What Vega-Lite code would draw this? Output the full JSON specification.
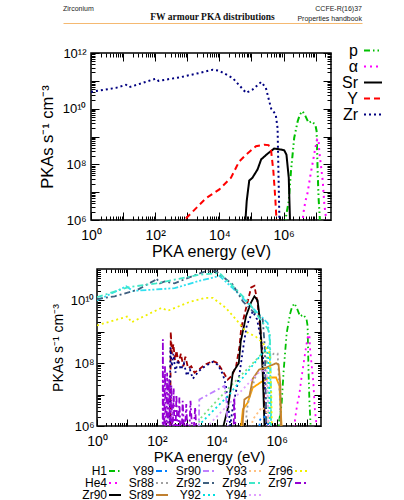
{
"$schema":"https://vega.github.io/schema/vega-lite/v6.json",
"padding":0,
"config":{"view":{"stroke":null},"font":"Liberation Sans","axis":{"labelColor":"#000","titleColor":"#000","tickColor":"#000","titleFontWeight":"normal","labelFont":"Liberation Sans","titleFont":"Liberation Sans"},"legend":{"labelColor":"#000","labelFont":"Liberation Sans"}},
"datasets":{
"top":[
{"s":"p","e":1.1e6,"v":1e5},{"s":"p","e":1.17e6,"v":1.2e6},{"s":"p","e":1.45e6,"v":4.8e6},{"s":"p","e":1.7e6,"v":5.75e7},{"s":"p","e":2.14e6,"v":8.9e8},{"s":"p","e":2.75e6,"v":3.55e9},{"s":"p","e":3.24e6,"v":6.2e9},{"s":"p","e":3.9e6,"v":8.1e9},{"s":"p","e":4.8e6,"v":5.4e9},{"s":"p","e":6.0e6,"v":3.1e9},{"s":"p","e":7.6e6,"v":3.55e9},{"s":"p","e":9.8e6,"v":2.6e9},{"s":"p","e":1.07e7,"v":1.55e9},{"s":"p","e":1.15e7,"v":5.75e7},{"s":"p","e":1.23e7,"v":6.3e6},{"s":"p","e":1.35e7,"v":1.05e6},{"s":"p","e":1.45e7,"v":1e5},
{"s":"α","e":3.6e6,"v":1e5},{"s":"α","e":3.8e6,"v":3.2e5},{"s":"α","e":4.07e6,"v":1.6e6},{"s":"α","e":4.8e6,"v":4.8e6},{"s":"α","e":5.6e6,"v":9.5e6},{"s":"α","e":6.8e6,"v":3.8e7},{"s":"α","e":7.9e6,"v":1e8},{"s":"α","e":9.8e6,"v":4e8},{"s":"α","e":1.12e7,"v":7.9e8},{"s":"α","e":1.23e7,"v":7.9e8},{"s":"α","e":1.29e7,"v":3e8},{"s":"α","e":1.48e7,"v":7.9e7},{"s":"α","e":1.66e7,"v":2.5e7},{"s":"α","e":1.86e7,"v":3.6e6},{"s":"α","e":2.1e7,"v":1.2e6},{"s":"α","e":2.24e7,"v":1e5},
{"s":"Sr","e":6e4,"v":1e5},{"s":"Sr","e":6.5e4,"v":1.05e6},{"s":"Sr","e":7.1e4,"v":4.8e6},{"s":"Sr","e":8.5e4,"v":2.6e7},{"s":"Sr","e":1.07e5,"v":3.3e7},{"s":"Sr","e":1.55e5,"v":6.6e7},{"s":"Sr","e":2e5,"v":1.5e8},{"s":"Sr","e":3.16e5,"v":2.4e8},{"s":"Sr","e":5.1e5,"v":3.7e8},{"s":"Sr","e":8.3e5,"v":3.4e8},{"s":"Sr","e":1.05e6,"v":3.2e8},{"s":"Sr","e":1.23e6,"v":2.2e8},{"s":"Sr","e":1.45e6,"v":3.3e7},{"s":"Sr","e":1.58e6,"v":1.05e6},{"s":"Sr","e":1.66e6,"v":1e5},
{"s":"Y","e":760,"v":1e5},{"s":"Y","e":810,"v":1e6},{"s":"Y","e":3800,"v":6e6},{"s":"Y","e":1e4,"v":1.26e7},{"s":"Y","e":2.3e4,"v":3.3e7},{"s":"Y","e":3.5e4,"v":8.7e7},{"s":"Y","e":4.2e4,"v":1.29e8},{"s":"Y","e":6.8e4,"v":2.24e8},{"s":"Y","e":1.38e5,"v":4.5e8},{"s":"Y","e":2.5e5,"v":5.1e8},{"s":"Y","e":3.4e5,"v":4.9e8},{"s":"Y","e":4.1e5,"v":3e8},{"s":"Y","e":4.8e5,"v":5.75e7},{"s":"Y","e":5.5e5,"v":6.3e6},{"s":"Y","e":6e5,"v":1.05e6},{"s":"Y","e":6.3e5,"v":1e5},
{"s":"Zr","e":1,"v":4e10},{"s":"Zr","e":6,"v":5.6e10},{"s":"Zr","e":12.3,"v":7.2e10},{"s":"Zr","e":15.5,"v":5.9e10},{"s":"Zr","e":105,"v":1.2e11},{"s":"Zr","e":126,"v":1e11},{"s":"Zr","e":560,"v":1.32e11},{"s":"Zr","e":2300,"v":1.9e11},{"s":"Zr","e":6200,"v":2.5e11},{"s":"Zr","e":1e4,"v":2.3e11},{"s":"Zr","e":2.6e4,"v":1.26e11},{"s":"Zr","e":6.8e4,"v":3.7e10},{"s":"Zr","e":1.07e5,"v":4.8e10},{"s":"Zr","e":2e5,"v":9.1e10},{"s":"Zr","e":2.8e5,"v":5.6e10},{"s":"Zr","e":4.1e5,"v":1e10},{"s":"Zr","e":5.5e5,"v":6.5e9},{"s":"Zr","e":5.75e5,"v":5.6e9},{"s":"Zr","e":6.5e5,"v":2e9},{"s":"Zr","e":6.9e5,"v":5.75e7},{"s":"Zr","e":7.4e5,"v":1.05e6},{"s":"Zr","e":7.8e5,"v":1e5}
],
"bot":[
{"s":"H1","e":1.1e6,"v":1e5},{"s":"H1","e":1.17e6,"v":1.2e6},{"s":"H1","e":1.45e6,"v":4.8e6},{"s":"H1","e":1.7e6,"v":5.75e7},{"s":"H1","e":2.14e6,"v":8.9e8},{"s":"H1","e":2.75e6,"v":3.55e9},{"s":"H1","e":3.24e6,"v":6.2e9},{"s":"H1","e":3.9e6,"v":8.1e9},{"s":"H1","e":4.8e6,"v":5.4e9},{"s":"H1","e":6.0e6,"v":3.1e9},{"s":"H1","e":7.6e6,"v":3.55e9},{"s":"H1","e":9.8e6,"v":2.6e9},{"s":"H1","e":1.07e7,"v":1.55e9},{"s":"H1","e":1.15e7,"v":5.75e7},{"s":"H1","e":1.23e7,"v":6.3e6},{"s":"H1","e":1.35e7,"v":1.05e6},{"s":"H1","e":1.45e7,"v":1e5},
{"s":"He4","e":3.6e6,"v":1e5},{"s":"He4","e":3.8e6,"v":3.2e5},{"s":"He4","e":4.07e6,"v":1.6e6},{"s":"He4","e":4.8e6,"v":4.8e6},{"s":"He4","e":5.6e6,"v":9.5e6},{"s":"He4","e":6.8e6,"v":3.8e7},{"s":"He4","e":7.9e6,"v":1e8},{"s":"He4","e":9.8e6,"v":4e8},{"s":"He4","e":1.12e7,"v":7.9e8},{"s":"He4","e":1.23e7,"v":7.9e8},{"s":"He4","e":1.29e7,"v":3e8},{"s":"He4","e":1.48e7,"v":7.9e7},{"s":"He4","e":1.66e7,"v":2.5e7},{"s":"He4","e":1.86e7,"v":3.6e6},{"s":"He4","e":2.1e7,"v":1.2e6},{"s":"He4","e":2.24e7,"v":1e5},
{"s":"Zr90","e":1.58e4,"v":1e5},{"s":"Zr90","e":1.66e4,"v":1e6},{"s":"Zr90","e":2.3e4,"v":3.4e6},{"s":"Zr90","e":3e4,"v":1.9e7},{"s":"Zr90","e":3.4e4,"v":5e7},{"s":"Zr90","e":5.4e4,"v":1e8},{"s":"Zr90","e":6.3e4,"v":5e8},{"s":"Zr90","e":9.5e4,"v":3.2e9},{"s":"Zr90","e":1.38e5,"v":8.5e9},{"s":"Zr90","e":1.8e5,"v":1.35e10},{"s":"Zr90","e":2.3e5,"v":1e10},{"s":"Zr90","e":2.8e5,"v":2e9},{"s":"Zr90","e":3.4e5,"v":5e7},{"s":"Zr90","e":3.9e5,"v":1e6},{"s":"Zr90","e":4.1e5,"v":1e5},
{"s":"Y89","e":2e5,"v":1e5},{"s":"Y89","e":2.8e5,"v":1.6e6},{"s":"Y89","e":4e5,"v":2e6},{"s":"Y89","e":5e5,"v":1.26e6},{"s":"Y89","e":5.6e5,"v":1e5},
{"s":"Sr88","e":7.9e4,"v":1e5},{"s":"Sr88","e":1e5,"v":3.2e6},{"s":"Sr88","e":1.26e5,"v":1e7},{"s":"Sr88","e":2e5,"v":4e7},{"s":"Sr88","e":4e5,"v":1e8},{"s":"Sr88","e":7.9e5,"v":2e8},{"s":"Sr88","e":1.07e6,"v":2e8},{"s":"Sr88","e":1.26e6,"v":1e7},{"s":"Sr88","e":1.4e6,"v":1e5},
{"s":"Sr89","e":7.1e4,"v":1e5},{"s":"Sr89","e":7.4e4,"v":1.6e6},{"s":"Sr89","e":8.3e4,"v":7e6},{"s":"Sr89","e":1.23e5,"v":9e6},{"s":"Sr89","e":1.58e5,"v":3.2e7},{"s":"Sr89","e":2.6e5,"v":6.3e7},{"s":"Sr89","e":4.4e5,"v":7.2e7},{"s":"Sr89","e":9.5e5,"v":1e8},{"s":"Sr89","e":1.15e6,"v":9e7},{"s":"Sr89","e":1.32e6,"v":2e7},{"s":"Sr89","e":1.45e6,"v":1e5},
{"s":"Sr90","e":2400,"v":1e5},{"s":"Sr90","e":2600,"v":7e6},{"s":"Sr90","e":6300,"v":1.1e7},{"s":"Sr90","e":1.8e4,"v":1.9e7},{"s":"Sr90","e":2.1e4,"v":6.3e6},{"s":"Sr90","e":2.5e4,"v":1e5},
{"s":"Zr92","e":1,"v":1.1e10},{"s":"Zr92","e":3.9,"v":1.35e10},{"s":"Zr92","e":23,"v":2.2e10},{"s":"Zr92","e":89,"v":4.5e10},{"s":"Zr92","e":95,"v":5.1e10},{"s":"Zr92","e":126,"v":3.5e10},{"s":"Zr92","e":182,"v":4e10},{"s":"Zr92","e":390,"v":3.5e10},{"s":"Zr92","e":1400,"v":5.75e10},{"s":"Zr92","e":3900,"v":8.3e10},{"s":"Zr92","e":9500,"v":8.5e10},{"s":"Zr92","e":3.4e4,"v":3.2e10},{"s":"Zr92","e":7.4e4,"v":9.3e9},{"s":"Zr92","e":1.58e5,"v":4.5e9},{"s":"Zr92","e":2.3e5,"v":3.5e9},{"s":"Zr92","e":3.4e5,"v":2.5e9},{"s":"Zr92","e":4e5,"v":3.2e8},{"s":"Zr92","e":4.4e5,"v":3.2e6},{"s":"Zr92","e":4.6e5,"v":1e5},
{"s":"Y92","e":2800,"v":1e5},{"s":"Y92","e":3000,"v":1.26e6},{"s":"Y92","e":2.6e4,"v":1e7},{"s":"Y92","e":1e5,"v":5e7},{"s":"Y92","e":3.2e5,"v":2e8},{"s":"Y92","e":5e5,"v":3.2e8},{"s":"Y92","e":5.75e5,"v":1e7},{"s":"Y92","e":6.2e5,"v":1e5},
{"s":"Y93","e":1e5,"v":1e5},{"s":"Y93","e":1.58e5,"v":1.6e6},{"s":"Y93","e":3.2e5,"v":4e6},{"s":"Y93","e":5e5,"v":2.5e6},{"s":"Y93","e":6e5,"v":1e5},
{"s":"Zr94","e":1,"v":1.26e10},{"s":"Zr94","e":10.7,"v":2.6e10},{"s":"Zr94","e":95,"v":3.5e10},{"s":"Zr94","e":390,"v":4.6e10},{"s":"Zr94","e":2600,"v":6.6e10},{"s":"Zr94","e":1.23e4,"v":7.4e10},{"s":"Zr94","e":4.5e4,"v":2.2e10},{"s":"Zr94","e":1.23e5,"v":8e9},{"s":"Zr94","e":2.6e5,"v":2.75e9},{"s":"Zr94","e":5e5,"v":1.26e9},{"s":"Zr94","e":5.9e5,"v":8e8},{"s":"Zr94","e":6.3e5,"v":3.2e7},{"s":"Zr94","e":6.6e5,"v":1e5},
{"s":"Y94","e":3500,"v":1e5},{"s":"Y94","e":4000,"v":8e5},{"s":"Y94","e":2e4,"v":4e6},{"s":"Y94","e":1e5,"v":2e7},{"s":"Y94","e":2.5e5,"v":5e7},{"s":"Y94","e":4.5e5,"v":6.3e7},{"s":"Y94","e":5.2e5,"v":3.2e6},{"s":"Y94","e":5.6e5,"v":1e5},
{"s":"Zr96","e":1,"v":1.6e9},{"s":"Zr96","e":10.7,"v":3.1e9},{"s":"Zr96","e":14,"v":2e9},{"s":"Zr96","e":141,"v":5.75e9},{"s":"Zr96","e":234,"v":4.7e9},{"s":"Zr96","e":1230,"v":8.9e9},{"s":"Zr96","e":3900,"v":1.2e10},{"s":"Zr96","e":7400,"v":1.2e10},{"s":"Zr96","e":2e4,"v":5.75e9},{"s":"Zr96","e":4.5e4,"v":2.4e9},{"s":"Zr96","e":9.5e4,"v":1e9},{"s":"Zr96","e":2e5,"v":7e8},{"s":"Zr96","e":3.4e5,"v":4.5e8},{"s":"Zr96","e":5.75e5,"v":2.1e8},{"s":"Zr96","e":6.6e5,"v":1e7},{"s":"Zr96","e":7.1e5,"v":1e5},
{"s":"Zr97","e":155,"v":1e4},{"s":"Zr97","e":158,"v":5.75e8},{"s":"Zr97","e":166,"v":1e4},{"s":"Zr97","e":186,"v":8e7},{"s":"Zr97","e":200,"v":1e4},{"s":"Zr97","e":219,"v":5e7},{"s":"Zr97","e":234,"v":1e5},{"s":"Zr97","e":257,"v":3.2e7},{"s":"Zr97","e":275,"v":1e5},{"s":"Zr97","e":302,"v":2e7},{"s":"Zr97","e":331,"v":3.2e5},{"s":"Zr97","e":363,"v":1.6e7},{"s":"Zr97","e":398,"v":1e5},{"s":"Zr97","e":447,"v":1e7},{"s":"Zr97","e":501,"v":3.2e5},{"s":"Zr97","e":562,"v":8e6},{"s":"Zr97","e":631,"v":1e5},{"s":"Zr97","e":724,"v":6.3e6},{"s":"Zr97","e":832,"v":3.2e5},{"s":"Zr97","e":955,"v":5e6},{"s":"Zr97","e":1120,"v":1e5},{"s":"Zr97","e":1320,"v":6.3e6},{"s":"Zr97","e":1580,"v":3.2e5},{"s":"Zr97","e":1900,"v":4e6},{"s":"Zr97","e":2240,"v":1e5},{"s":"Zr97","e":3.5e4,"v":1e5},{"s":"Zr97","e":3.8e4,"v":8e6},{"s":"Zr97","e":4.6e4,"v":1e5}
],
"botx":[
{"s":"dr","e":275,"v":1e5},{"s":"dr","e":290,"v":1e9},{"s":"dr","e":316,"v":2e8},{"s":"dr","e":355,"v":4e8},{"s":"dr","e":400,"v":1.26e8},{"s":"dr","e":450,"v":2.5e8},{"s":"dr","e":525,"v":1e8},{"s":"dr","e":630,"v":2e8},{"s":"dr","e":760,"v":7.9e7},{"s":"dr","e":890,"v":1.6e8},{"s":"dr","e":1100,"v":7e7},{"s":"dr","e":1400,"v":8e7},{"s":"dr","e":1800,"v":5e7},{"s":"dr","e":2500,"v":6.3e7},{"s":"dr","e":4000,"v":9e7},{"s":"dr","e":7400,"v":1.17e8},{"s":"dr","e":1.07e4,"v":1e8},{"s":"dr","e":1.58e4,"v":5.6e7},{"s":"dr","e":2.3e4,"v":3e7},{"s":"dr","e":3.2e4,"v":4e7},{"s":"dr","e":4.4e4,"v":8.1e7},{"s":"dr","e":5.75e4,"v":3.5e8},{"s":"dr","e":6.5e4,"v":1.3e9},{"s":"dr","e":8.7e4,"v":4.1e9},{"s":"dr","e":1.4e5,"v":2.6e10},{"s":"dr","e":1.8e5,"v":2.9e10},{"s":"dr","e":2.3e5,"v":8e9},{"s":"dr","e":3e5,"v":7e8},{"s":"dr","e":3.4e5,"v":1e8},{"s":"dr","e":4.1e5,"v":1e6},{"s":"dr","e":4.3e5,"v":1e5},
{"s":"nv","e":263,"v":1e5},{"s":"nv","e":282,"v":3.2e8},{"s":"nv","e":316,"v":8e7},{"s":"nv","e":355,"v":2e8},{"s":"nv","e":417,"v":5e7},{"s":"nv","e":500,"v":1.26e8},{"s":"nv","e":630,"v":6.3e7},{"s":"nv","e":794,"v":1e8},{"s":"nv","e":1000,"v":4e7},{"s":"nv","e":1260,"v":6.3e7},{"s":"nv","e":1580,"v":3.2e7},{"s":"nv","e":2500,"v":5.6e7},{"s":"nv","e":4000,"v":8e7},{"s":"nv","e":7400,"v":1.1e8},{"s":"nv","e":1.07e4,"v":9e7},{"s":"nv","e":1.58e4,"v":4.5e7},{"s":"nv","e":2e4,"v":2e7},{"s":"nv","e":2.5e4,"v":3.2e6},{"s":"nv","e":2.8e4,"v":1e6},{"s":"nv","e":3.4e4,"v":4e6},{"s":"nv","e":5.6e4,"v":4e7},{"s":"nv","e":7.9e4,"v":4e8},{"s":"nv","e":1e5,"v":1.6e9},{"s":"nv","e":1.58e5,"v":4.5e9},{"s":"nv","e":2.2e5,"v":2.5e9},{"s":"nv","e":3.2e5,"v":4e8},{"s":"nv","e":3.9e5,"v":3.2e7},{"s":"nv","e":4.4e5,"v":3.2e6},{"s":"nv","e":4.8e5,"v":1e5},
{"s":"or","e":6.2e4,"v":1e5},{"s":"or","e":6.5e4,"v":1e6},{"s":"or","e":7.4e4,"v":3.4e6},{"s":"or","e":1.07e5,"v":5.5e6},{"s":"or","e":1.58e5,"v":1.66e7},{"s":"or","e":3.4e5,"v":2.7e7},{"s":"or","e":5.75e5,"v":3.5e7},{"s":"or","e":9.5e5,"v":3.5e7},{"s":"or","e":1.23e6,"v":1.9e7},{"s":"or","e":1.45e6,"v":1e6},{"s":"or","e":1.5e6,"v":1e5},
{"s":"cy","e":1,"v":1e10},{"s":"cy","e":9.5,"v":2.8e10},{"s":"cy","e":15.8,"v":2e10},{"s":"cy","e":74,"v":2.2e10},{"s":"cy","e":390,"v":2.45e10},{"s":"cy","e":2600,"v":4.2e10},{"s":"cy","e":1.23e4,"v":6e10},{"s":"cy","e":3.4e4,"v":2.45e10},{"s":"cy","e":1.23e5,"v":7.2e9},{"s":"cy","e":3.4e5,"v":2.75e9},{"s":"cy","e":5e5,"v":1.9e9},{"s":"cy","e":5.75e5,"v":6.3e8},{"s":"cy","e":6.3e5,"v":1e7},{"s":"cy","e":6.6e5,"v":1e5},
{"s":"gr","e":2400,"v":1e5},{"s":"gr","e":2600,"v":1.6e6},{"s":"gr","e":2e4,"v":1.3e7},{"s":"gr","e":1e5,"v":6.3e7},{"s":"gr","e":3.2e5,"v":2e8},{"s":"gr","e":4.5e5,"v":2.5e8},{"s":"gr","e":5.2e5,"v":1e7},{"s":"gr","e":5.6e5,"v":1e5}
]
},
"resolve":{"scale":{"color":"independent","strokeDash":"independent"}},
"vconcat":[
{"hconcat":[
 {"width":63,"height":5,"data":{"values":[]},"mark":"point"},
 {"width":299,"height":20,
  "data":{"values":[{"slot":"left","row":"r1","t":"Zirconium"},{"slot":"center","row":"r2","t":"FW armour PKA distributions"},{"slot":"right","row":"r1","t":"CCFE-R(16)37"},{"slot":"right","row":"r2","t":"Properties handbook"}]},
  "encoding":{
   "x":{"field":"slot","type":"nominal","scale":{"type":"point","domain":["left","center","right"],"padding":0},"axis":{"orient":"bottom","labels":false,"ticks":false,"title":null,"domainColor":"#f5b971","domainWidth":1,"offset":3,"grid":false}},
   "y":{"field":"row","type":"nominal","scale":{"type":"point","domain":["r1","r2"],"padding":0.5},"axis":null},
   "text":{"field":"t","type":"nominal"}},
  "layer":[
   {"transform":[{"filter":"datum.slot == 'left'"}],"mark":{"type":"text","align":"left","baseline":"middle","fontSize":7,"dy":4,"color":"#222"}},
   {"transform":[{"filter":"datum.slot == 'center'"}],"mark":{"type":"text","align":"center","baseline":"middle","fontSize":9.5,"font":"Liberation Serif","fontWeight":"bold","dy":2,"color":"#111"}},
   {"transform":[{"filter":"datum.slot == 'right'"}],"mark":{"type":"text","align":"right","baseline":"middle","fontSize":7,"dy":4,"color":"#222"}}
  ]}
],"spacing":0},
{"resolve":{"scale":{"color":"independent","strokeDash":"independent"}},
 "vconcat":[
 {"hconcat":[
  {"width":38,"height":5,"data":{"values":[]},"mark":"point"},
  {"width":240,"height":167,
   "data":{"name":"top"},
   "view":{"stroke":"#000","strokeWidth":1.5},
   "layer":[
    {"mark":{"type":"line","clip":true,"strokeWidth":2},
     "encoding":{
      "x":{"field":"e","type":"quantitative","scale":{"type":"log","domain":[1,3e7],"nice":false},"axis":{"orient":"bottom","values":[1,10,100,1000,10000,100000,1000000,10000000],"tickSize":-8,"labelPadding":16,"labelExpr":"(round(log(datum.value)/LN10) % 2 == 0) ? '10' + ['⁰','¹','²','³','⁴','⁵','⁶','⁷','⁸','⁹','¹⁰','¹¹','¹²'][round(log(datum.value)/LN10)] : ''","labelFontSize":14,"labelFlush":false,"labelOverlap":false,"domain":false,"grid":false,"title":"PKA energy (eV)","titleFontSize":16,"titlePadding":1}},
      "y":{"field":"v","type":"quantitative","scale":{"type":"log","domain":[1e6,1e12],"nice":false},"axis":{"orient":"left","values":[1e6,1e7,1e8,1e9,1e10,1e11,1e12],"tickSize":-8,"labelPadding":13,"labelExpr":"(round(log(datum.value)/LN10) % 2 == 0) ? '10' + ['⁰','¹','²','³','⁴','⁵','⁶','⁷','⁸','⁹','¹⁰','¹¹','¹²'][round(log(datum.value)/LN10)] : ''","labelFontSize":13,"labelFlush":false,"labelOverlap":false,"domain":false,"grid":false,"title":"PKAs s⁻¹ cm⁻³","titleFontSize":16.5,"titlePadding":7}},
      "color":{"field":"s","type":"nominal","scale":{"domain":["p","α","Sr","Y","Zr"],"range":["#00c000","#ff00ff","#000000","#ff0000","#000080"]},"legend":{"orient":"none","legendX":274,"legendY":-10.5,"title":null,"labelFontSize":16,"labelAlign":"right","labelOffset":-23,"symbolType":"M-1.5,0L1.5,0","symbolSize":144,"symbolStrokeWidth":2,"rowPadding":-1,"padding":0,"labelLimit":0}},
      "strokeDash":{"field":"s","type":"nominal","scale":{"domain":["p","α","Sr","Y","Zr"],"range":[[6,3,1.5,3,1.5,3],[2,4],[1,0],[6,4],[2,3]]},"legend":{"orient":"none","legendX":274,"legendY":-10.5,"title":null,"labelFontSize":16,"labelAlign":"right","labelOffset":-23,"symbolType":"M-1.5,0L1.5,0","symbolSize":144,"symbolStrokeWidth":2,"rowPadding":-1,"padding":0,"labelLimit":0}}
     }},
    {"mark":{"type":"point","opacity":0},
     "encoding":{
      "x":{"field":"e","type":"quantitative","scale":{"type":"log","domain":[1,3e7],"nice":false},"axis":{"orient":"bottom","values":[2,3,4,5,6,7,8,9,20,30,40,50,60,70,80,90,200,300,400,500,600,700,800,900,2000,3000,4000,5000,6000,7000,8000,9000,20000,30000,40000,50000,60000,70000,80000,90000,2e5,3e5,4e5,5e5,6e5,7e5,8e5,9e5,2e6,3e6,4e6,5e6,6e6,7e6,8e6,9e6,2e7],"tickSize":-4,"labels":false,"domain":false,"grid":false,"title":null}},
      "y":{"field":"v","type":"quantitative","scale":{"type":"log","domain":[1e6,1e12],"nice":false},"axis":{"orient":"left","values":[2e6,3e6,4e6,5e6,6e6,7e6,8e6,9e6,2e7,3e7,4e7,5e7,6e7,7e7,8e7,9e7,2e8,3e8,4e8,5e8,6e8,7e8,8e8,9e8,2e9,3e9,4e9,5e9,6e9,7e9,8e9,9e9,2e10,3e10,4e10,5e10,6e10,7e10,8e10,9e10,2e11,3e11,4e11,5e11,6e11,7e11,8e11,9e11],"tickSize":-4,"labels":false,"domain":false,"grid":false,"title":null}}
     }},
    {"mark":{"type":"point","opacity":0},
     "encoding":{
      "x":{"field":"e","type":"quantitative","scale":{"type":"log","domain":[1,3e7],"nice":false},"axis":{"orient":"top","values":[1,10,100,1000,10000,100000,1000000,10000000],"tickSize":-8,"labels":false,"domain":false,"grid":false,"title":null}},
      "y":{"field":"v","type":"quantitative","scale":{"type":"log","domain":[1e6,1e12],"nice":false},"axis":{"orient":"right","values":[1e6,1e7,1e8,1e9,1e10,1e11,1e12],"tickSize":-8,"labels":false,"domain":false,"grid":false,"title":null}}
     }},
    {"mark":{"type":"point","opacity":0},
     "encoding":{
      "x":{"field":"e","type":"quantitative","scale":{"type":"log","domain":[1,3e7],"nice":false},"axis":{"orient":"top","values":[2,3,4,5,6,7,8,9,20,30,40,50,60,70,80,90,200,300,400,500,600,700,800,900,2000,3000,4000,5000,6000,7000,8000,9000,20000,30000,40000,50000,60000,70000,80000,90000,2e5,3e5,4e5,5e5,6e5,7e5,8e5,9e5,2e6,3e6,4e6,5e6,6e6,7e6,8e6,9e6,2e7],"tickSize":-4,"labels":false,"domain":false,"grid":false,"title":null}},
      "y":{"field":"v","type":"quantitative","scale":{"type":"log","domain":[1e6,1e12],"nice":false},"axis":{"orient":"right","values":[2e6,3e6,4e6,5e6,6e6,7e6,8e6,9e6,2e7,3e7,4e7,5e7,6e7,7e7,8e7,9e7,2e8,3e8,4e8,5e8,6e8,7e8,8e8,9e8,2e9,3e9,4e9,5e9,6e9,7e9,8e9,9e9,2e10,3e10,4e10,5e10,6e10,7e10,8e10,9e10,2e11,3e11,4e11,5e11,6e11,7e11,8e11,9e11],"tickSize":-4,"labels":false,"domain":false,"grid":false,"title":null}}
     }}
   ],
   "resolve":{"axis":{"x":"independent","y":"independent"}}
  }
 ],"spacing":0,"resolve":{"scale":{"color":"independent","strokeDash":"independent"}}},
 {"hconcat":[
  {"width":50,"height":5,"data":{"values":[]},"mark":"point"},
  {"width":224,"height":157,
   "view":{"stroke":"#000","strokeWidth":1.5},
   "layer":[
    {"data":{"name":"botx"},"mark":{"type":"line","clip":true,"strokeWidth":1.8},
     "encoding":{
      "x":{"field":"e","type":"quantitative","scale":{"type":"log","domain":[1,3e7],"nice":false},"axis":{"orient":"bottom","values":[1,10,100,1000,10000,100000,1000000,10000000],"tickSize":-7,"labelPadding":15,"labelExpr":"(round(log(datum.value)/LN10) % 2 == 0) ? '10' + ['⁰','¹','²','³','⁴','⁵','⁶','⁷','⁸','⁹','¹⁰','¹¹','¹²'][round(log(datum.value)/LN10)] : ''","labelFontSize":14,"labelFlush":false,"labelOverlap":false,"domain":false,"grid":false,"title":"PKA energy (eV)","titleFontSize":15,"titlePadding":1}},
      "y":{"field":"v","type":"quantitative","scale":{"type":"log","domain":[1e6,1e11],"nice":false},"axis":{"orient":"left","values":[1e6,1e7,1e8,1e9,1e10],"tickSize":-7,"labelPadding":10,"labelExpr":"(round(log(datum.value)/LN10) % 2 == 0) ? '10' + ['⁰','¹','²','³','⁴','⁵','⁶','⁷','⁸','⁹','¹⁰','¹¹','¹²'][round(log(datum.value)/LN10)] : ''","labelFontSize":13,"labelFlush":false,"labelOverlap":false,"domain":false,"grid":false,"title":"PKAs s⁻¹ cm⁻³","titleFontSize":14,"titlePadding":5}},
      "color":{"field":"s","type":"nominal","scale":{"domain":["dr","nv","or","cy","gr"],"range":["#a00000","#000080","#ffa500","#30e0f0","#80e080"]},"legend":null},
      "strokeDash":{"field":"s","type":"nominal","scale":{"domain":["dr","nv","or","cy","gr"],"range":[[5,3],[2,3],[1,0],[6,2,2,2,2,2],[2,3]]},"legend":null}
     }},
    {"data":{"name":"bot"},"mark":{"type":"line","clip":true,"strokeWidth":1.8},
     "encoding":{
      "x":{"field":"e","type":"quantitative","scale":{"type":"log","domain":[1,3e7],"nice":false},"axis":null},
      "y":{"field":"v","type":"quantitative","scale":{"type":"log","domain":[1e6,1e11],"nice":false},"axis":null},
      "color":{"field":"s","type":"nominal","scale":{"domain":["H1","Y89","Sr90","Y93","Zr96","He4","Sr88","Zr92","Zr94","Zr97","Zr90","Sr89","Y92","Y94"],"range":["#00c000","#0080ff","#c080ff","#ffc080","#f0f000","#ff00ff","#a0a0a0","#406080","#40e8c8","#9400d3","#000000","#c08030","#00e0e0","#e0a0ff"]},"legend":{"orient":"none","legendX":12,"legendY":196,"columns":5,"direction":"horizontal","title":null,"labelFontSize":12,"labelAlign":"right","labelOffset":-14,"symbolType":"M-1.5,0L1.5,0","symbolSize":64,"symbolStrokeWidth":2,"rowPadding":-4,"columnPadding":3,"padding":0,"labelLimit":0}},
      "strokeDash":{"field":"s","type":"nominal","scale":{"domain":["H1","Y89","Sr90","Y93","Zr96","He4","Sr88","Zr92","Zr94","Zr97","Zr90","Sr89","Y92","Y94"],"range":[[6,3,1.5,3,1.5,3],[6,3,2,3],[6,3,2,3],[2,3],[2,3],[2,4],[2,3],[6,3,2,3],[6,3,2,3],[6,3,2,3],[1,0],[1,0],[2,3],[2,3]]},"legend":{"orient":"none","legendX":12,"legendY":196,"columns":5,"direction":"horizontal","title":null,"labelFontSize":12,"labelAlign":"right","labelOffset":-14,"symbolType":"M-1.5,0L1.5,0","symbolSize":64,"symbolStrokeWidth":2,"rowPadding":-4,"columnPadding":3,"padding":0,"labelLimit":0}}
     }},
    {"data":{"name":"bot"},"mark":{"type":"point","opacity":0},
     "encoding":{
      "x":{"field":"e","type":"quantitative","scale":{"type":"log","domain":[1,3e7],"nice":false},"axis":{"orient":"bottom","values":[2,3,4,5,6,7,8,9,20,30,40,50,60,70,80,90,200,300,400,500,600,700,800,900,2000,3000,4000,5000,6000,7000,8000,9000,20000,30000,40000,50000,60000,70000,80000,90000,2e5,3e5,4e5,5e5,6e5,7e5,8e5,9e5,2e6,3e6,4e6,5e6,6e6,7e6,8e6,9e6,2e7],"tickSize":-3.5,"labels":false,"domain":false,"grid":false,"title":null}},
      "y":{"field":"v","type":"quantitative","scale":{"type":"log","domain":[1e6,1e11],"nice":false},"axis":{"orient":"left","values":[2e6,3e6,4e6,5e6,6e6,7e6,8e6,9e6,2e7,3e7,4e7,5e7,6e7,7e7,8e7,9e7,2e8,3e8,4e8,5e8,6e8,7e8,8e8,9e8,2e9,3e9,4e9,5e9,6e9,7e9,8e9,9e9,2e10,3e10,4e10,5e10,6e10,7e10,8e10,9e10],"tickSize":-3.5,"labels":false,"domain":false,"grid":false,"title":null}}
     }},
    {"data":{"name":"bot"},"mark":{"type":"point","opacity":0},
     "encoding":{
      "x":{"field":"e","type":"quantitative","scale":{"type":"log","domain":[1,3e7],"nice":false},"axis":{"orient":"top","values":[1,10,100,1000,10000,100000,1000000,10000000],"tickSize":-7,"labels":false,"domain":false,"grid":false,"title":null}},
      "y":{"field":"v","type":"quantitative","scale":{"type":"log","domain":[1e6,1e11],"nice":false},"axis":{"orient":"right","values":[1e6,1e7,1e8,1e9,1e10,1e11],"tickSize":-7,"labels":false,"domain":false,"grid":false,"title":null}}
     }},
    {"data":{"name":"bot"},"mark":{"type":"point","opacity":0},
     "encoding":{
      "x":{"field":"e","type":"quantitative","scale":{"type":"log","domain":[1,3e7],"nice":false},"axis":{"orient":"top","values":[2,3,4,5,6,7,8,9,20,30,40,50,60,70,80,90,200,300,400,500,600,700,800,900,2000,3000,4000,5000,6000,7000,8000,9000,20000,30000,40000,50000,60000,70000,80000,90000,2e5,3e5,4e5,5e5,6e5,7e5,8e5,9e5,2e6,3e6,4e6,5e6,6e6,7e6,8e6,9e6,2e7],"tickSize":-3.5,"labels":false,"domain":false,"grid":false,"title":null}},
      "y":{"field":"v","type":"quantitative","scale":{"type":"log","domain":[1e6,1e11],"nice":false},"axis":{"orient":"right","values":[2e6,3e6,4e6,5e6,6e6,7e6,8e6,9e6,2e7,3e7,4e7,5e7,6e7,7e7,8e7,9e7,2e8,3e8,4e8,5e8,6e8,7e8,8e8,9e8,2e9,3e9,4e9,5e9,6e9,7e9,8e9,9e9,2e10,3e10,4e10,5e10,6e10,7e10,8e10,9e10],"tickSize":-3.5,"labels":false,"domain":false,"grid":false,"title":null}}
     }}
   ],
   "resolve":{"axis":{"x":"independent","y":"independent"},"scale":{"color":"independent","strokeDash":"independent"}}
  }
 ],"spacing":0,"resolve":{"scale":{"color":"independent","strokeDash":"independent"}}}
],"spacing":7}
],
"spacing":18
}
